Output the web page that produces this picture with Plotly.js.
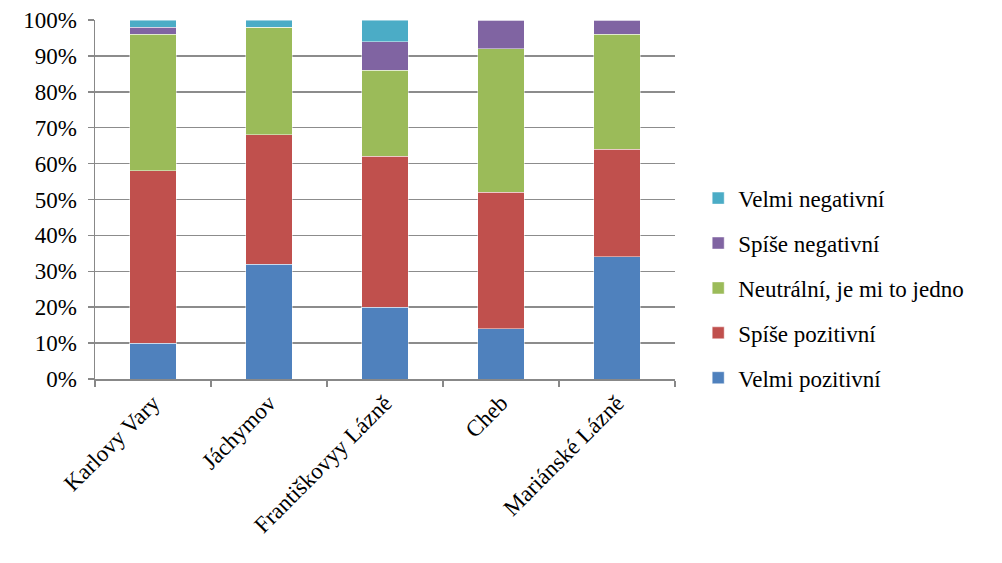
<!DOCTYPE html>
<html>
<head>
<meta charset="utf-8">
<script src="https://cdn.plot.ly/plotly-3.0.1.min.js"></script>
<style>
  html, body { margin: 0; padding: 0; background: #fff; }
  #chart { width: 1002px; height: 563px; }
</style>
</head>
<body>
<div id="chart"></div>
<script>
// Spa towns and the share of each response (percent)
const towns = ['Karlovy Vary', 'Jáchymov', 'Františkovyy Lázně', 'Cheb', 'Mariánské Lázně'];
const velmiPozitivni   = [10, 32, 20, 14, 34];
const spisePozitivni   = [48, 36, 42, 38, 30];
const neutralni        = [38, 30, 24, 40, 32];
const spiseNegativni   = [2, 0, 8, 8, 4];
const velmiNegativni   = [2, 2, 6, 0, 0];
const yTickVals = [0, 10, 20, 30, 40, 50, 60, 70, 80, 90, 100];
const yTickText = ['0%', '10%', '20%', '30%', '40%', '50%', '60%', '70%', '80%', '90%', '100%'];

const seriesDefs = [
  { name: 'Velmi pozitivní', y: velmiPozitivni, color: '#4F81BD' },
  { name: 'Spíše pozitivní', y: spisePozitivni, color: '#C0504D' },
  { name: 'Neutrální, je mi to jedno', y: neutralni, color: '#9BBB59' },
  { name: 'Spíše negativní', y: spiseNegativni, color: '#8064A2' },
  { name: 'Velmi negativní', y: velmiNegativni, color: '#4BACC6' }
];

// stacked bottom-to-top; legend lists the top segment first
const traces = seriesDefs.map((s, i) => ({
  type: 'bar',
  name: s.name,
  x: towns,
  y: s.y,
  legendgroup: 'g' + i,
  legendrank: 1000 + (seriesDefs.length - i),
  marker: { color: s.color, line: { color: 'rgba(255,255,255,0.45)', width: 1 } },
  hoverinfo: 'x+y+name'
}));

const SERIF = 'Liberation Serif, Times New Roman, serif';
function mkFont() { return { family: SERIF, size: 23, color: '#000' }; }

const layout = {
  width: 1002,
  height: 563,
  margin: { l: 95, r: 327, t: 20, b: 184 },
  paper_bgcolor: '#fff',
  plot_bgcolor: '#fff',
  barmode: 'stack',
  bargap: 0.6,
  font: mkFont(),
  showlegend: true,
  legend: {
    x: 1.04, xanchor: 'left',
    y: 0.253, yanchor: 'middle',
    traceorder: 'grouped',
    tracegroupgap: 12,
    font: mkFont(),
    itemwidth: 30
  },
  xaxis: {
    type: 'category',
    tickangle: -45,
    ticks: 'outside',
    tickson: 'boundaries',
    ticklen: 6,
    tickcolor: '#888',
    tickwidth: 1.5,
    showline: true,
    linecolor: '#888',
    linewidth: 1.5,
    showgrid: false,
    tickfont: mkFont()
  },
  yaxis: {
    range: [0, 100],
    tickmode: 'array',
    tickvals: yTickVals,
    ticktext: yTickText,
    ticks: 'outside',
    ticklen: 6,
    tickcolor: '#888',
    tickwidth: 1.5,
    showline: true,
    linecolor: '#888',
    linewidth: 1.5,
    showgrid: true,
    gridcolor: '#8c8c8c',
    gridwidth: 1.5,
    zeroline: false,
    ticklabelstandoff: 6,
    tickfont: mkFont()
  }
};

Plotly.newPlot('chart', traces, layout, { displayModeBar: false, staticPlot: true });
</script>
</body>
</html>
